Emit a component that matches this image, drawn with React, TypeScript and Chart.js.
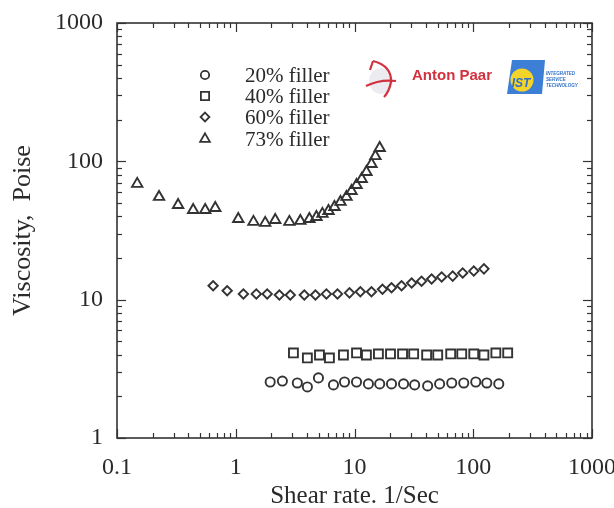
import { useEffect, useRef } from "react";
import { Chart, registerables } from "chart.js";
Chart.register(...registerables);

// ---- data ----
const rate20 = [1.95, 2.47, 3.3, 4.01, 4.97, 6.65, 8.24, 10.4, 13.1, 16.3, 20.5, 25.9, 32.1, 41.3, 52.1, 65.9, 83.2, 105, 130, 164];
const visc20 = [2.54, 2.58, 2.5, 2.34, 2.72, 2.42, 2.54, 2.54, 2.46, 2.46, 2.46, 2.46, 2.42, 2.38, 2.46, 2.5, 2.5, 2.54, 2.5, 2.46];

const rate40 = [3.06, 4.01, 5.07, 6.15, 8.07, 10.4, 12.6, 15.9, 20.1, 25.4, 31.5, 40.5, 50.2, 64.6, 80.0, 101, 123, 155, 195];
const visc40 = [4.12, 3.79, 3.98, 3.79, 3.98, 4.12, 3.98, 4.05, 4.05, 4.05, 4.05, 3.98, 3.98, 4.05, 4.05, 4.05, 3.98, 4.12, 4.12];

const rate60 = [0.645, 0.847, 1.16, 1.49, 1.84, 2.33, 2.88, 3.78, 4.69, 5.8, 7.19, 9.07, 11.2, 13.9, 17.2, 20.5, 24.9, 30.3, 36.7, 44.6, 54.2, 67.1, 81.5, 101, 123];
const visc60 = [12.6, 11.6, 11.0, 11.0, 11.0, 10.8, 10.8, 10.8, 10.8, 11.0, 11.0, 11.2, 11.4, 11.4, 11.9, 12.2, 12.6, 13.2, 13.6, 14.1, 14.6, 14.8, 15.6, 16.1, 16.7];

const rate73 = [0.148, 0.226, 0.327, 0.438, 0.553, 0.672, 1.05, 1.41, 1.77, 2.15, 2.83, 3.5, 4.17, 4.78, 5.37, 6.04, 6.78, 7.62, 8.56, 9.44, 10.4, 11.5, 12.6, 13.9, 15.0, 16.3];
const visc73 = [68.7, 55.3, 48.4, 44.5, 44.5, 46.0, 38.3, 36.5, 35.9, 37.7, 36.5, 37.1, 38.3, 39.6, 41.7, 43.8, 46.8, 50.9, 55.3, 61.1, 67.5, 74.6, 83.8, 95.7, 109, 125];

const seriesLabels = ["20% filler", "40% filler", "60% filler", "73% filler"];
const seriesStyles = ["circle", "rect", "rectRot", "triangle"];
const xTickValues = [0.1, 1, 10, 100, 1000];
const yTickValues = [1, 10, 100, 1000];
const xTitle = "Shear rate. 1/Sec";
const yTitle = "Viscosity,  Poise";

const SERIF = "'Liberation Serif', 'Times New Roman', serif";
const SANS = "'Liberation Sans', Arial, sans-serif";
const INK = "#333333";

function pts(xs: number[], ys: number[]) {
  return xs.map((x, i) => ({ x, y: ys[i] }));
}

function drawSymbol(ctx: CanvasRenderingContext2D, style: string, x: number, y: number, r: number) {
  ctx.beginPath();
  if (style === "circle") {
    ctx.arc(x, y, r, 0, Math.PI * 2);
  } else if (style === "rect") {
    const s = r * Math.SQRT1_2;
    ctx.rect(x - s, y - s, 2 * s, 2 * s);
  } else if (style === "rectRot") {
    ctx.moveTo(x, y - r);
    ctx.lineTo(x + r, y);
    ctx.lineTo(x, y + r);
    ctx.lineTo(x - r, y);
    ctx.closePath();
  } else {
    for (let k = 0; k < 3; k++) {
      const a = -Math.PI / 2 + (k * 2 * Math.PI) / 3;
      const px = x + Math.cos(a) * r;
      const py = y + Math.sin(a) * r;
      if (k === 0) ctx.moveTo(px, py);
      else ctx.lineTo(px, py);
    }
    ctx.closePath();
  }
  ctx.stroke();
}

const framePlugin = {
  id: "framePlugin",
  afterDraw(chart: any) {
    const { ctx, chartArea: a, scales } = chart;
    const xs = scales.x;
    const ys = scales.y;
    ctx.save();
    ctx.strokeStyle = INK;
    ctx.lineWidth = 1.2;
    const line = (x1: number, y1: number, x2: number, y2: number) => {
      ctx.beginPath();
      ctx.moveTo(x1, y1);
      ctx.lineTo(x2, y2);
      ctx.stroke();
    };
    for (let i = 0; i < xTickValues.length; i++) {
      for (let m = 1; m <= 9; m++) {
        if (i === xTickValues.length - 1 && m > 1) break;
        const px = Math.round(xs.getPixelForValue(xTickValues[i] * m)) + 0.5;
        const len = m === 1 ? 9 : 5;
        line(px, a.bottom, px, a.bottom - len);
        line(px, a.top, px, a.top + len);
      }
    }
    for (let i = 0; i < yTickValues.length; i++) {
      for (let m = 1; m <= 9; m++) {
        if (i === yTickValues.length - 1 && m > 1) break;
        const py = Math.round(ys.getPixelForValue(yTickValues[i] * m)) + 0.5;
        const len = m === 1 ? 9 : 5;
        line(a.left, py, a.left + len, py);
        line(a.right, py, a.right - len, py);
      }
    }
    ctx.lineWidth = 1.6;
    ctx.strokeRect(a.left, a.top, a.right - a.left, a.bottom - a.top);
    ctx.restore();
  },
};

const legendPlugin = {
  id: "legendPlugin",
  afterDraw(chart: any) {
    const { ctx } = chart;
    ctx.save();
    const rows = [75, 96, 117, 139];
    const radii = [4.2, 5.8, 4.4, 5.6];
    ctx.strokeStyle = INK;
    ctx.lineWidth = 1.8;
    seriesLabels.forEach((label, i) => {
      drawSymbol(ctx, seriesStyles[i], 205, rows[i], radii[i]);
      ctx.fillStyle = "#2a2a2a";
      ctx.font = `21px ${SERIF}`;
      ctx.textBaseline = "middle";
      ctx.textAlign = "left";
      ctx.fillText(label, 245, rows[i] + 1);
    });
    ctx.restore();
  },
};

const logoPlugin = {
  id: "logoPlugin",
  afterDraw(chart: any) {
    const { ctx } = chart;
    ctx.save();
    // Anton Paar mark
    ctx.fillStyle = "#ececf0";
    ctx.beginPath();
    ctx.ellipse(381, 81, 12, 13, 0, 0, Math.PI * 2);
    ctx.fill();
    ctx.strokeStyle = "#d2313f";
    ctx.lineWidth = 2.2;
    ctx.beginPath();
    ctx.moveTo(373, 61);
    ctx.quadraticCurveTo(392, 66, 391, 82);
    ctx.quadraticCurveTo(389, 92, 384, 97);
    ctx.stroke();
    ctx.beginPath();
    ctx.moveTo(366, 86);
    ctx.quadraticCurveTo(380, 79, 396, 81);
    ctx.stroke();
    ctx.beginPath();
    ctx.moveTo(373, 61);
    ctx.lineTo(370, 70);
    ctx.stroke();
    ctx.fillStyle = "#d2313f";
    ctx.font = `bold 15px ${SANS}`;
    ctx.textBaseline = "middle";
    ctx.textAlign = "left";
    ctx.fillText("Anton Paar", 412, 76);

    // IST mark
    ctx.fillStyle = "#3d7fd6";
    ctx.beginPath();
    ctx.moveTo(512, 60);
    ctx.lineTo(545, 60);
    ctx.lineTo(542, 94);
    ctx.lineTo(507, 94);
    ctx.closePath();
    ctx.fill();
    ctx.fillStyle = "#f4d32a";
    ctx.beginPath();
    ctx.arc(522, 80, 11.5, 0, Math.PI * 2);
    ctx.fill();
    ctx.fillStyle = "#2f6fc8";
    ctx.font = `italic bold 12px ${SANS}`;
    ctx.textAlign = "center";
    ctx.fillText("IST", 521, 84);
    ctx.font = `italic bold 4.5px ${SANS}`;
    ctx.textAlign = "left";
    ctx.fillText("INTEGRATED", 546, 74);
    ctx.fillText("SERVICE", 546, 80);
    ctx.fillText("TECHNOLOGY", 546, 86);
    ctx.restore();
  },
};

export default function App() {
  const ref = useRef<HTMLCanvasElement>(null);
  useEffect(() => {
    const makeSet = (i: number, data: { x: number; y: number }[], r: number) => ({
      label: seriesLabels[i],
      data,
      pointStyle: seriesStyles[i],
      pointRadius: r,
      pointHoverRadius: r,
      pointBorderWidth: 1.9,
      borderColor: INK,
      backgroundColor: "rgba(255,255,255,0)",
      showLine: false,
    });
    const chart = new Chart(ref.current!, {
      type: "scatter",
      data: {
        datasets: [
          makeSet(0, pts(rate20, visc20), 4.6),
          makeSet(1, pts(rate40, visc40), 6.3),
          makeSet(2, pts(rate60, visc60), 4.7),
          makeSet(3, pts(rate73, visc73), 6.0),
        ] as any,
      },
      options: {
        animation: false,
        responsive: false,
        devicePixelRatio: 1,
        layout: { padding: { left: 0, top: 23, right: 22, bottom: 0 } },
        plugins: {
          legend: { display: false },
          tooltip: { enabled: false },
        },
        scales: {
          x: {
            type: "logarithmic",
            min: 0.1,
            max: 1000,
            border: { display: false },
            grid: { display: false, drawTicks: false },
            afterBuildTicks: (s: any) => {
              s.ticks = xTickValues.map((v) => ({ value: v }));
            },
            afterFit: (s: any) => {
              s.height = 70;
              s.paddingLeft = 0;
              s.paddingRight = 0;
            },
            ticks: {
              autoSkip: false,
              maxRotation: 0,
              padding: 15,
              color: "#2a2a2a",
              font: { family: SERIF, size: 24 },
              callback: (v: any) => String(v),
            },
            title: {
              display: true,
              text: xTitle,
              color: "#2a2a2a",
              font: { family: SERIF, size: 25, lineHeight: 1 },
              padding: { top: 0, bottom: -1 },
            },
          },
          y: {
            type: "logarithmic",
            min: 1,
            max: 1000,
            border: { display: false },
            grid: { display: false, drawTicks: false },
            afterBuildTicks: (s: any) => {
              s.ticks = yTickValues.map((v) => ({ value: v }));
            },
            afterFit: (s: any) => {
              s.width = 117;
              s.paddingTop = 0;
              s.paddingBottom = 0;
            },
            ticks: {
              autoSkip: false,
              padding: 14,
              color: "#2a2a2a",
              font: { family: SERIF, size: 24 },
              callback: (v: any) => String(v),
            },
            title: {
              display: true,
              text: yTitle,
              color: "#2a2a2a",
              font: { family: SERIF, size: 26, lineHeight: 1 },
              padding: { top: 10, bottom: 0 },
            },
          },
        },
      } as any,
      plugins: [framePlugin, legendPlugin, logoPlugin],
    });
    return () => chart.destroy();
  }, []);
  return (
    <div style={{ position: "absolute", left: 0, top: 0, width: 614, height: 508, background: "#fff" }}>
      <canvas ref={ref} width={614} height={508} style={{ display: "block" }} />
    </div>
  );
}
